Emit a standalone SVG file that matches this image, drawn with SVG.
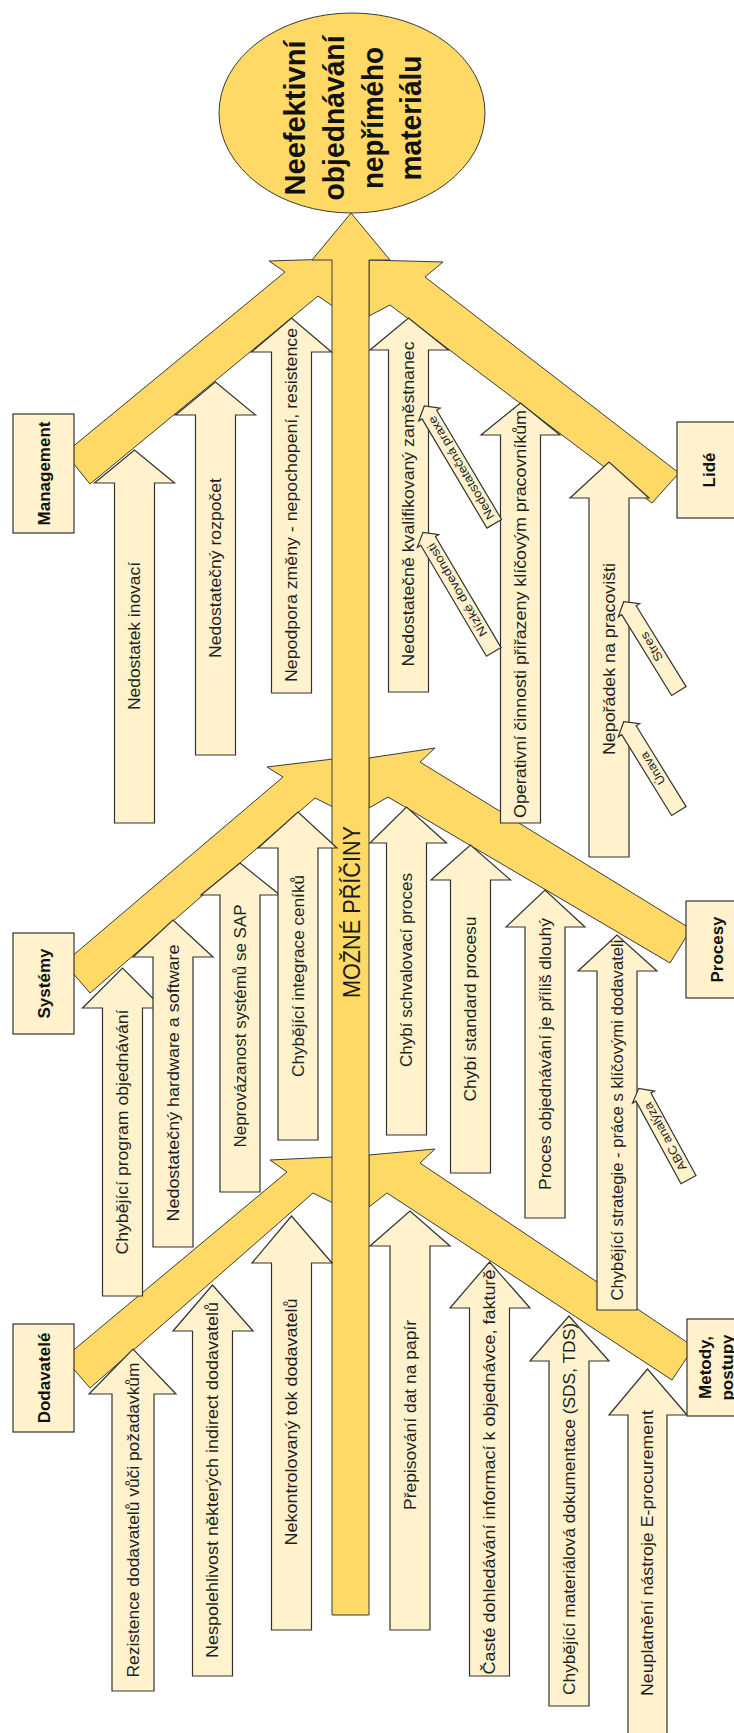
<svg xmlns="http://www.w3.org/2000/svg" width="734" height="1733" viewBox="0 0 734 1733">
<style>
.bone{fill:#FFD966;stroke:#3a3a3a;stroke-width:1}
.sub{fill:#FFF2CC;stroke:#333;stroke-width:1.2}
.box{fill:#FFF2CC;stroke:#333;stroke-width:1.2}
.t{font-family:"Liberation Sans",Arial,sans-serif;font-size:17px;fill:#1f1f1f;text-anchor:middle}
.cat{font-family:"Liberation Sans",Arial,sans-serif;font-size:17px;font-weight:bold;fill:#111;text-anchor:middle}
.s{font-family:"Liberation Sans",Arial,sans-serif;font-size:12px;fill:#1f1f1f;text-anchor:middle}
.eff{font-family:"Liberation Sans",Arial,sans-serif;font-size:30px;font-weight:bold;fill:#111;text-anchor:middle}
.spine-t{font-family:"Liberation Sans",Arial,sans-serif;font-size:23px;fill:#1a1a1a;text-anchor:middle}
</style>
<rect width="734" height="1733" fill="#ffffff"/>

<g id="connectors">
  <polygon id="bone-management" class="bone" points="65,453 285,272 269,261 333,259 334,307 318,296 90,484"/>
  <polygon id="bone-lide" class="bone" points="369,260 443,262 425,277 679,473 652,503 390,305 369,316"/>
  <polygon id="bone-systemy" class="bone" points="64,963 283,777 267,767 333,759 333,807 315,798 90,993"/>
  <polygon id="bone-procesy" class="bone" points="369,758 435,748 420,762 691,929 670,963 388,797 369,808"/>
  <polygon id="bone-dodavatele" class="bone" points="64,1358 287,1172 270,1160 333,1157 333,1203 313,1193 90,1388"/>
  <polygon id="bone-metody" class="bone" points="369,1155 435,1149 420,1163 694,1347 672,1380 387,1193 369,1207"/>
  <polygon id="spine" class="bone" points="332,1615 332,260 312,260 351,213 390,260 369,260 369,1615"/>
  <text class="spine-t" transform="translate(360,912) rotate(-90)" textLength="172" lengthAdjust="spacingAndGlyphs">MOŽNÉ PŘÍČINY</text>
</g>

<g id="effect">
  <ellipse cx="352" cy="113" rx="133" ry="100" fill="#FFD966" stroke="#3a3a3a" stroke-width="1"/>
  <text class="eff" transform="translate(305,118) rotate(-90)" textLength="155" lengthAdjust="spacingAndGlyphs">Neefektivní</text>
  <text class="eff" transform="translate(344,118) rotate(-90)" textLength="165" lengthAdjust="spacingAndGlyphs">objednávání</text>
  <text class="eff" transform="translate(383,118) rotate(-90)" textLength="142" lengthAdjust="spacingAndGlyphs">nepřímého</text>
  <text class="eff" transform="translate(421,118) rotate(-90)" textLength="125" lengthAdjust="spacingAndGlyphs">materiálu</text>
</g>

<!-- Management causes -->
<g id="c-nedostatek-inovaci">
  <polygon class="sub" points="114.5,823 114.5,483 94.5,483 134.5,450 174.5,483 154.5,483 154.5,823"/>
  <text class="t" transform="translate(140,636) rotate(-90)" textLength="148" lengthAdjust="spacingAndGlyphs">Nedostatek inovací</text>
</g>
<g id="c-nedostatecny-rozpocet">
  <polygon class="sub" points="195.5,755 195.5,415 175.5,415 215.5,382 255.5,415 235.5,415 235.5,755"/>
  <text class="t" transform="translate(221,568) rotate(-90)" textLength="180" lengthAdjust="spacingAndGlyphs">Nedostatečný rozpočet</text>
</g>
<g id="c-nepodpora-zmeny">
  <polygon class="sub" points="271.5,693 271.5,352 251.5,352 291.5,318 331.5,352 311.5,352 311.5,693"/>
  <text class="t" transform="translate(297,505) rotate(-90)" textLength="354" lengthAdjust="spacingAndGlyphs">Nepodpora změny - nepochopení, resistence</text>
</g>

<!-- Lide causes -->
<g id="c-nedostatecne-kvalifikovany">
  <polygon class="sub" points="388.5,692 388.5,350 370,350 408.5,318 448.5,350 428.5,350 428.5,692"/>
  <text class="t" transform="translate(414,504) rotate(-90)" textLength="325" lengthAdjust="spacingAndGlyphs">Nedostatečně kvalifikovaný zaměstnanec</text>
</g>
<g id="c-operativni-cinnosti">
  <polygon class="sub" points="500.5,823 500.5,435 481,435 520.5,403 560,435 540.5,435 540.5,823"/>
  <text class="t" transform="translate(526,614) rotate(-90)" textLength="408" lengthAdjust="spacingAndGlyphs">Operativní činnosti přiřazeny klíčovým pracovníkům</text>
</g>
<g id="c-neporadek">
  <polygon class="sub" points="589,857 589,498 570,498 609,462 649,498 629,498 629,857"/>
  <text class="t" transform="translate(614.5,659) rotate(-90)" textLength="192" lengthAdjust="spacingAndGlyphs">Nepořádek na pracovišti</text>
</g>

<!-- Systemy causes -->
<g id="c-chybejici-program">
  <polygon class="sub" points="102.5,1296 102.5,1008 82.5,1008 122.5,968 162.5,1008 142.5,1008 142.5,1296"/>
  <text class="t" transform="translate(128,1132) rotate(-90)" textLength="245" lengthAdjust="spacingAndGlyphs">Chybějící program objednávání</text>
</g>
<g id="c-nedostatecny-hw">
  <polygon class="sub" points="153,1247 153,957 133,957 173,920 213,957 193,957 193,1247"/>
  <text class="t" transform="translate(178.5,1083) rotate(-90)" textLength="277" lengthAdjust="spacingAndGlyphs">Nedostatečný hardware a software</text>
</g>
<g id="c-neprovazanost">
  <polygon class="sub" points="220,1192 220,895 201,895 240,863 280,895 260,895 260,1192"/>
  <text class="t" transform="translate(245.5,1026) rotate(-90)" textLength="243" lengthAdjust="spacingAndGlyphs">Neprovázanost systémů se SAP</text>
</g>
<g id="c-chybejici-integrace">
  <polygon class="sub" points="278,1140 278,848 258,848 298,812 337,848 318,848 318,1140"/>
  <text class="t" transform="translate(303.5,976) rotate(-90)" textLength="202" lengthAdjust="spacingAndGlyphs">Chybějící integrace ceníků</text>
</g>

<!-- Procesy causes -->
<g id="c-chybi-schvalovaci">
  <polygon class="sub" points="386.5,1135 386.5,843 370,843 406.5,807 446.5,843 426.5,843 426.5,1135"/>
  <text class="t" transform="translate(412,970) rotate(-90)" textLength="194" lengthAdjust="spacingAndGlyphs">Chybí schvalovací proces</text>
</g>
<g id="c-chybi-standard">
  <polygon class="sub" points="450.5,1173 450.5,880 431,880 470.5,845 510.5,880 490.5,880 490.5,1173"/>
  <text class="t" transform="translate(476,1009) rotate(-90)" textLength="185" lengthAdjust="spacingAndGlyphs">Chybí standard procesu</text>
</g>
<g id="c-proces-dlouhy">
  <polygon class="sub" points="525,1218 525,927 506,927 545,890 585,927 565,927 565,1218"/>
  <text class="t" transform="translate(550.5,1054) rotate(-90)" textLength="272" lengthAdjust="spacingAndGlyphs">Proces objednávání je příliš dlouhý</text>
</g>
<g id="c-chybejici-strategie">
  <polygon class="sub" points="597,1310 597,971 578,971 617,935 657,971 637,971 637,1310"/>
  <text class="t" transform="translate(622.5,1120) rotate(-90)" textLength="361" lengthAdjust="spacingAndGlyphs">Chybějící strategie - práce s klíčovými dodavateli</text>
</g>

<!-- Dodavatele causes -->
<g id="c-rezistence">
  <polygon class="sub" points="112,1691 112,1394 89,1394 133,1349 176,1394 154,1394 154,1691"/>
  <text class="t" transform="translate(138.5,1520) rotate(-90)" textLength="315" lengthAdjust="spacingAndGlyphs">Rezistence dodavatelů vůči požadavkům</text>
</g>
<g id="c-nespolehlivost">
  <polygon class="sub" points="192.5,1676 192.5,1331 173,1331 212.5,1285 253,1331 232.5,1331 232.5,1676"/>
  <text class="t" transform="translate(218,1480) rotate(-90)" textLength="356" lengthAdjust="spacingAndGlyphs">Nespolehlivost některých indirect dodavatelů</text>
</g>
<g id="c-nekontrolovany-tok">
  <polygon class="sub" points="271.5,1630 271.5,1263 252,1263 291.5,1216 332,1263 311.5,1263 311.5,1630"/>
  <text class="t" transform="translate(297,1422) rotate(-90)" textLength="247" lengthAdjust="spacingAndGlyphs">Nekontrolovaný tok dodavatelů</text>
</g>

<!-- Metody causes -->
<g id="c-prepisovani">
  <polygon class="sub" points="390,1630 390,1246 370,1246 410,1211 450,1246 430,1246 430,1630"/>
  <text class="t" transform="translate(415.5,1415) rotate(-90)" textLength="190" lengthAdjust="spacingAndGlyphs">Přepisování dat na papír</text>
</g>
<g id="c-caste-dohledavani">
  <polygon class="sub" points="469.5,1676 469.5,1308 450,1308 489.5,1262 530,1308 509.5,1308 509.5,1676"/>
  <text class="t" transform="translate(495,1472) rotate(-90)" textLength="405" lengthAdjust="spacingAndGlyphs">Časté dohledávání informací k objednávce, fakturě</text>
</g>
<g id="c-chybejici-dokumentace">
  <polygon class="sub" points="549,1706 549,1361 530,1361 569,1316 609,1361 589,1361 589,1706"/>
  <text class="t" transform="translate(574.5,1509) rotate(-90)" textLength="372" lengthAdjust="spacingAndGlyphs">Chybějící materiálová dokumentace (SDS, TDS)</text>
</g>
<g id="c-neuplatneni">
  <polygon class="sub" points="628,1745 628,1415 609,1415 647.5,1369 687,1415 667,1415 667,1745"/>
  <text class="t" transform="translate(653,1553) rotate(-90)" textLength="286" lengthAdjust="spacingAndGlyphs">Neuplatnění nástroje E-procurement</text>
</g>

<!-- small sub-sub causes -->
<g id="s-nedostatecna-praxe" transform="translate(424.3,406) rotate(-120.7)">
  <polygon class="sub" points="-137,-8.5 -10,-8.5 -10,-12.5 0,0 -10,12.5 -10,8.5 -137,8.5"/>
  <text class="s" x="-72" y="4.2" textLength="118" lengthAdjust="spacingAndGlyphs">Nedostatečná praxe</text>
</g>
<g id="s-nizke-dovednosti" transform="translate(423,532.3) rotate(-120.6)">
  <polygon class="sub" points="-139,-8.5 -10,-8.5 -10,-12.5 0,0 -10,12.5 -10,8.5 -139,8.5"/>
  <text class="s" x="-67" y="4.2" textLength="106" lengthAdjust="spacingAndGlyphs">Nízké dovednosti</text>
</g>
<g id="s-stres" transform="translate(623.7,601.7) rotate(-121.7)">
  <polygon class="sub" points="-105,-8.5 -10,-8.5 -10,-12.5 0,0 -10,12.5 -10,8.5 -105,8.5"/>
  <text class="s" x="-53" y="4.2" textLength="32" lengthAdjust="spacingAndGlyphs">Stres</text>
</g>
<g id="s-unava" transform="translate(623.7,721.7) rotate(-121.7)">
  <polygon class="sub" points="-105,-8.5 -10,-8.5 -10,-12.5 0,0 -10,12.5 -10,8.5 -105,8.5"/>
  <text class="s" x="-55" y="4.2" textLength="36" lengthAdjust="spacingAndGlyphs">Únava</text>
</g>
<g id="s-abc-analyza" transform="translate(638.7,1088.3) rotate(-118.6)">
  <polygon class="sub" points="-104,-8.5 -10,-8.5 -10,-12.5 0,0 -10,12.5 -10,8.5 -104,8.5"/>
  <text class="s" x="-55" y="4.2" textLength="76" lengthAdjust="spacingAndGlyphs">ABC analýza</text>
</g>

<!-- category boxes -->
<g id="cat-management">
  <rect class="box" x="13" y="414" width="61" height="119"/>
  <text class="cat" transform="translate(49.5,473.5) rotate(-90)">Management</text>
</g>
<g id="cat-systemy">
  <rect class="box" x="13" y="933" width="61" height="101"/>
  <text class="cat" transform="translate(49.5,983.5) rotate(-90)">Systémy</text>
</g>
<g id="cat-dodavatele">
  <rect class="box" x="13" y="1324" width="61" height="108"/>
  <text class="cat" transform="translate(49.5,1378) rotate(-90)">Dodavatelé</text>
</g>
<g id="cat-lide">
  <rect class="box" x="677" y="422" width="64" height="96"/>
  <text class="cat" transform="translate(715,470) rotate(-90)">Lidé</text>
</g>
<g id="cat-procesy">
  <rect class="box" x="686" y="901" width="62" height="97"/>
  <text class="cat" transform="translate(723,949.5) rotate(-90)">Procesy</text>
</g>
<g id="cat-metody">
  <rect class="box" x="687" y="1319" width="62" height="97"/>
  <text class="cat" transform="translate(711,1367.5) rotate(-90)">Metody,</text>
  <text class="cat" transform="translate(733,1367.5) rotate(-90)">postupy</text>
</g>
</svg>
